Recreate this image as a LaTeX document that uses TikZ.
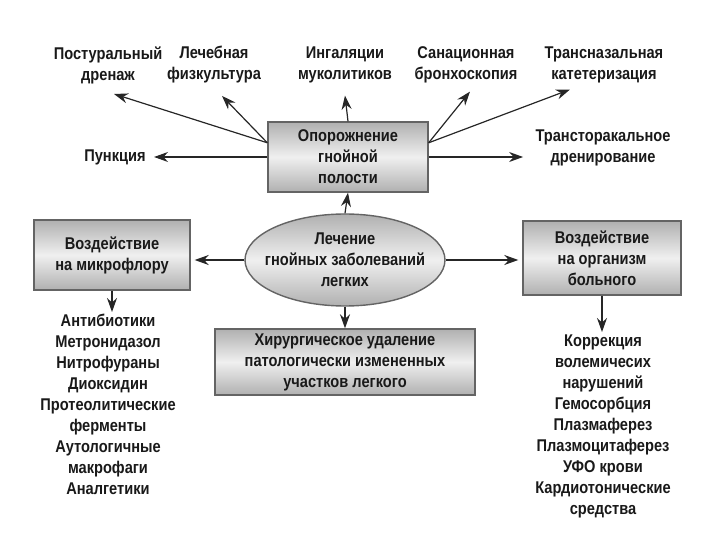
\documentclass[tikz,border=0pt]{standalone}
\usepackage{fontspec}
\setmainfont{Liberation Sans}[FakeStretch=0.86]
\usetikzlibrary{positioning,arrows.meta,shapes.geometric}
\definecolor{boxedge}{RGB}{100,100,100}

\begin{document}
\begin{tikzpicture}[x=0.5pt, y=-0.5pt, >={Stealth[length=7pt,width=5pt]},
  every node/.style={font=\bfseries\fontsize{8.5}{10.5}\selectfont, align=center, text=black!90, inner sep=1pt},
  box/.style={draw=boxedge, line width=0.7pt, top color=gray!62, bottom color=gray!62, middle color=gray!12, inner sep=2pt},
  arr/.style={->, line width=0.6pt, draw=black!85}]

\useasboundingbox (0,0) rectangle (720,540);

% centre
\node[box, ellipse, minimum width=100pt, minimum height=46pt, inner xsep=-9pt, inner ysep=-5pt] (lech) at (345,260)
  {Лечение\\гнойных заболеваний\\легких};

% boxes
\node[box, minimum width=80pt, minimum height=35pt] (opor) at (348,157) {Опорожнение\\гнойной\\полости};
\node[box, minimum width=78pt, minimum height=35pt] (mikro) at (112,255) {Воздействие\\на микрофлору};
\node[box, minimum width=79pt, minimum height=37pt] (organ) at (602,258) {Воздействие\\на организм\\больного};
\node[box, minimum width=130pt, minimum height=33pt] (hirurg) at (345,362)
  {Хирургическое удаление\\патологически измененных\\участков легкого};

% top labels
\node (postur) at (108,65) {Постуральный\\дренаж};
\node (lfk) at (214,65) {Лечебная\\физкультура};
\node (ingal) at (345,65) {Ингаляции\\муколитиков};
\node (sanac) at (466,65) {Санационная\\бронхоскопия};
\node (transn) at (604,65) {Трансназальная\\катетеризация};
\node (punk) at (115,157) {Пункция};
\node (transt) at (603,148) {Трансторакальное\\дренирование};

% lists
\node[anchor=north] (antib) at (108,312) {Антибиотики\\Метронидазол\\Нитрофураны\\Диоксидин\\Протеолитические\\ферменты\\Аутологичные\\макрофаги\\Аналгетики};
\node[anchor=north] (korr) at (603,332) {Коррекция\\волемичесих\\нарушений\\Гемосорбция\\Плазмаферез\\Плазмоцитаферез\\УФО крови\\Кардиотонические\\средства};

% arrows
\draw[arr] (opor.170) -- ([xshift=3pt,yshift=-4pt]postur.south);
\draw[arr] (opor.170) -- ([xshift=4pt,yshift=-5pt]lfk.south);
\draw[arr] (opor.north) -- ([yshift=-5pt]ingal.south);
\draw[arr] (opor.10) -- ([xshift=2pt,yshift=-3pt]sanac.south);
\draw[arr] (opor.10) -- ([xshift=-17pt,yshift=-2pt]transn.south);
\draw[arr] (opor.west |- punk) -- ([xshift=3pt]punk.east);
\draw[arr] (opor.east |- punk) -- ([xshift=-5pt]transt.south west |- punk);
\draw[arr] (lech.north) -- (opor.south);
\draw[arr] (lech.west) -- ([xshift=2pt]mikro.east |- lech.west);
\draw[arr] (lech.east) -- ([xshift=-2pt]organ.west |- lech.east);
\draw[arr] (lech.south) -- (hirurg.north);
\draw[arr] (mikro.south) -- (mikro.south |- antib.north);
\draw[arr] (organ.south) -- (organ.south |- korr.north);

\end{tikzpicture}
\end{document}
